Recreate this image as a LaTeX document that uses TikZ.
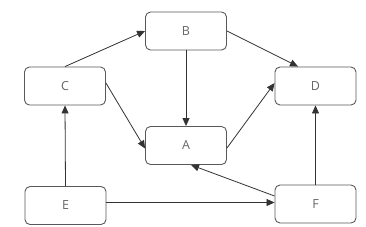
\documentclass[tikz,border=0pt]{standalone}
\usepackage{fontspec}
\setmainfont{Open Sans}
\usetikzlibrary{arrows.meta}
\begin{document}
\begin{tikzpicture}[x=1pt,y=-1pt,
  box/.style={draw=black!65, line width=0.9pt, rounded corners=5pt, minimum width=81pt, minimum height=38pt, inner sep=0pt, text=black!60, font=\fontsize{12.5}{14}\selectfont},
  conn/.style={draw=black!80, line width=0.8pt, -{Triangle[length=8pt,width=7pt]}}]
\useasboundingbox (0,0) rectangle (366,226);
\node[box] (B) at (186,31) {B};
\node[box] (C) at (65,86) {C};
\node[box] (D) at (315.5,86) {D};
\node[box] (A) at (186,145.5) {A};
\node[box] (E) at (65.5,205.5) {E};
\node[box] (F) at (315.5,204) {F};
\coordinate (Dn) at ([xshift=-17.5pt]D.north);
\coordinate (Aw) at ([yshift=-3pt]A.west);
\coordinate (Ae) at ([yshift=-2.5pt]A.east);
\coordinate (Dw) at ([yshift=3pt]D.west);
\coordinate (As) at ([xshift=5pt]A.south);
\coordinate (Fw) at ([yshift=8pt]F.west);
\coordinate (Ee) at (E.east |- 0,202.5);
\coordinate (Fe) at (F.west |- 0,202.5);
\draw[conn] (C.north) -- (B.west);
\draw[conn] (B.east) -- (Dn);
\draw[conn] (B.south) -- (A.north);
\draw[conn] ([yshift=3pt]C.east) -- (Aw);
\draw[conn] (Ae) -- (Dw);
\draw[conn] (E.north) -- (C.south);
\draw[conn] (Ee) -- (Fe);
\draw[conn] (Fw) -- (As);
\draw[conn] (F.north) -- (D.south);
\end{tikzpicture}
\end{document}
